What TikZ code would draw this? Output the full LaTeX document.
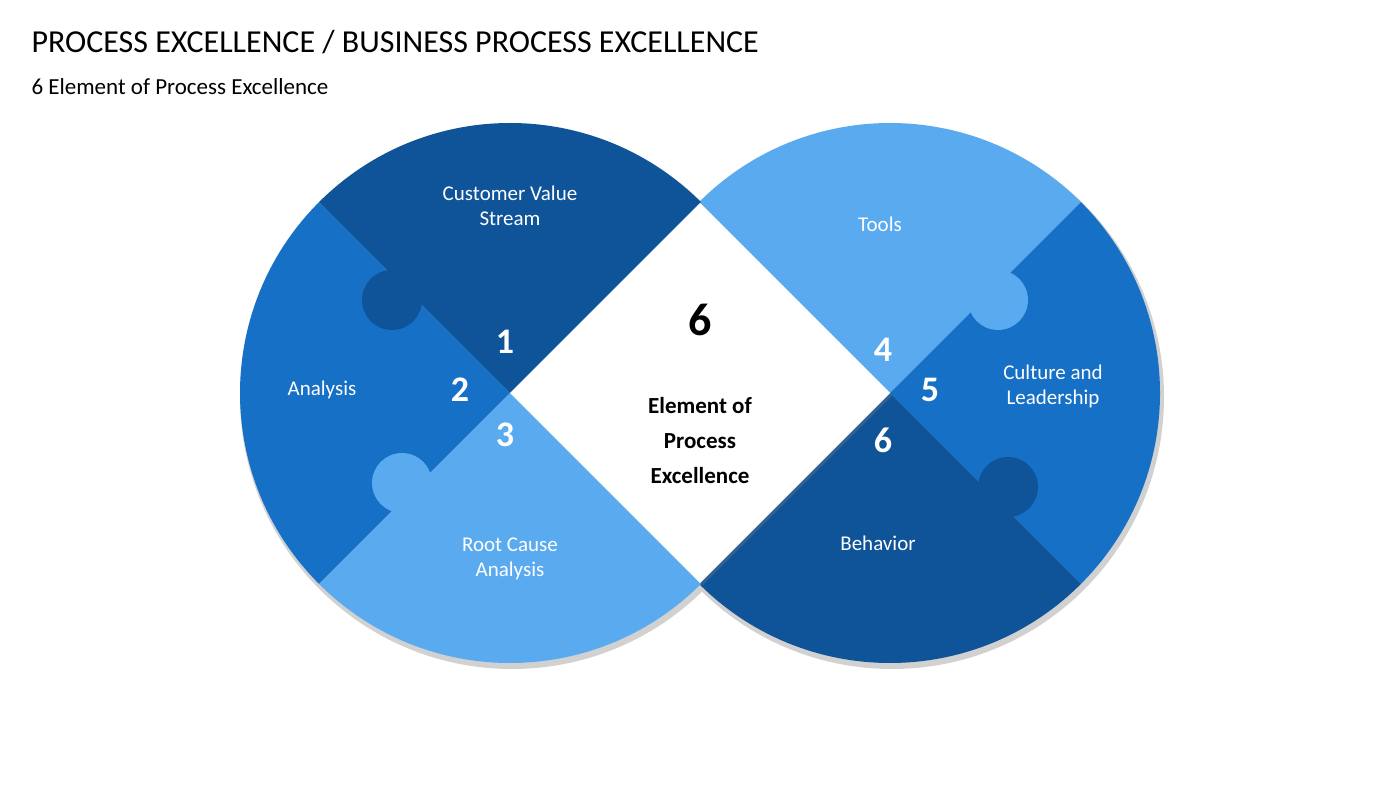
\documentclass[tikz,border=0pt]{standalone}
\usepackage{fontspec}
\setmainfont{Carlito}
\usetikzlibrary{shadows}
\definecolor{dk}{HTML}{0F5399}
\definecolor{md}{HTML}{1570C6}
\definecolor{lt}{HTML}{5AAAF0}
\begin{document}
\begin{tikzpicture}[x=1pt,y=1pt,
  lbl/.style={text=white,font=\fontsize{21}{25}\selectfont,align=center},
  num/.style={text=white,font=\bfseries\fontsize{36}{40}\selectfont}]
\useasboundingbox (0,0) rectangle (1400,788);
\coordinate (L) at (510,395);
\coordinate (R) at (890,395);
% shadows
\fill[black!18] (512,391) circle (272);
\fill[black!18] (892,391) circle (272);
% right circle
\fill[lt] (R) -- ++(45:270) arc (45:135:270) -- cycle;
\fill[md] (R) -- ++(-45:270) arc (-45:45:270) -- cycle;
\fill[dk] (R) -- ++(225:270) arc (225:315:270) -- cycle;
\fill[lt] (998,488) circle (30);
\fill[dk] (1008,301) circle (30);
% left circle
\fill[md] (L) -- ++(135:270) arc (135:225:270) -- cycle;
\fill[dk] (L) -- ++(45:270) arc (45:135:270) -- cycle;
\fill[lt] (L) -- ++(225:270) arc (225:315:270) -- cycle;
\fill[dk] (392,488) circle (30);
\fill[lt] (402,305) circle (30);
% diamond
\fill[white,drop shadow={opacity=0.3}] (L) -- (700,585) -- (R) -- (700,205) -- cycle;
% texts
\node[anchor=west,font=\fontsize{32}{36}\selectfont] (t) at (28,746) {PROCESS EXCELLENCE / BUSINESS PROCESS EXCELLENCE};
\node[anchor=west,font=\fontsize{23}{27}\selectfont] (s) at (28,701) {6 Element of Process Excellence};
\node[lbl] (a) at (510,582) {Customer Value\\Stream};
\node[lbl] (b) at (322,398) {Analysis};
\node[lbl] (c) at (510,229) {Root Cause\\Analysis};
\node[lbl] (d) at (880,564) {Tools};
\node[lbl] (e) at (1053,402) {Culture and\\Leadership};
\node[lbl] (f) at (878,245) {Behavior};
\node[num] (n1) at (505,446) {1};
\node[num] (n2) at (460,398) {2};
\node[num] (n3) at (505,353) {3};
\node[num] (n4) at (883,438) {4};
\node[num] (n5) at (930,398) {5};
\node[num] (n6) at (883,348) {6};
\node[font=\bfseries\fontsize{46}{50}\selectfont] (c6) at (700,468) {6};
\node[font=\bfseries\fontsize{23}{35}\selectfont,align=center] (ce) at (700,347) {Element of\\Process\\Excellence};
\end{tikzpicture}
\end{document}
